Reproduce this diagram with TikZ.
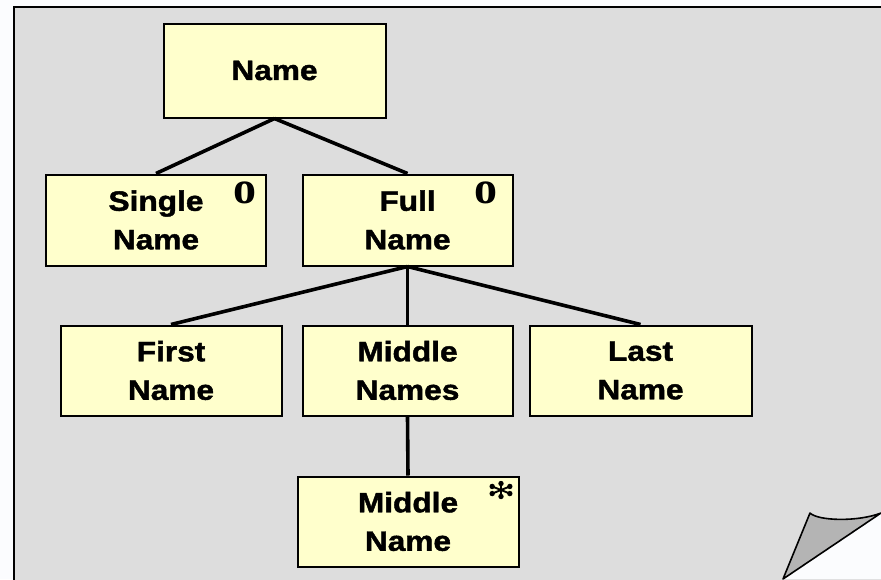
\documentclass[tikz,border=0pt]{standalone}
\usepackage{fontspec}
\usetikzlibrary{calc}
\setmainfont{Liberation Sans}
\newfontfamily\boxfont{Liberation Sans Bold}[FakeStretch=1.13, FakeBold=1.6]
\newfontfamily\markfont{Liberation Serif Bold}
\definecolor{paper}{HTML}{DDDDDD}
\definecolor{outside}{HTML}{FBFCFE}
\definecolor{boxfill}{HTML}{FFFFCC}
\definecolor{curl}{HTML}{B4B4B4}
\begin{document}
\begin{tikzpicture}[x=1pt,y=-1pt,
  entity/.style={draw=black, fill=boxfill, line width=2pt, rectangle,
    inner sep=0pt, align=center,
    font=\boxfont\fontsize{28}{38.5}\selectfont},
  link/.style={draw=black, line width=3.6pt},
  selmark/.style={inner sep=0pt, font=\markfont\fontsize{46}{46}\selectfont},
  arm/.style={line width=1.9pt, line cap=round}]
  \useasboundingbox (0,0) rectangle (881,579);
  \fill[outside] (0,0) rectangle (881,579);
  % sheet of paper
  \begin{scope}
    \clip (0,0) rectangle (881,579);
    \draw[fill=paper, line width=2pt] (14,7) rectangle (900,600);
  \end{scope}
  % turned-up corner
  \coordinate (cA) at (783,579);
  \coordinate (cB) at (810,513);
  \coordinate (cC) at (881,513);
  \fill[outside] (cA) -- (cC) -- (881,579) -- cycle;
  \draw[fill=curl, line width=1.6pt, line join=round]
    (cA) -- (cB) .. controls (818,521) and (858,522) .. (cC) -- cycle;

  % structure boxes
  \node[entity, minimum width=222pt, minimum height=94pt] (name) at (274.5,70.5) {Name};
  \node[entity, minimum width=220pt, minimum height=91pt] (single) at (156,220) {Single\\Name};
  \node[entity, minimum width=210pt, minimum height=91pt] (full) at (407.5,220) {Full\\Name};
  \node[entity, minimum width=221pt, minimum height=90pt] (first) at (171,370.5) {First\\Name};
  \node[entity, minimum width=210pt, minimum height=90pt] (middles) at (407.5,370.5) {Middle\\Names};
  \node[entity, minimum width=222pt, minimum height=90pt] (last) at (640.5,370.5) {Last\\Name};
  \node[entity, minimum width=221pt, minimum height=90pt] (middle) at (408,521.5) {Middle\\Name};

  % selection marks
  \node[selmark] (selA) at (245,193) {o};
  \node[selmark] (selB) at (486,193) {o};
  % iteration mark: six spokes with rounded ends
  \coordinate (iter) at (501,490);
  \foreach \ang/\len in {90/6.5, 270/6.5, 22/9.5, 158/9.5, -22/9.5, 202/9.5} {
    \draw[arm] (iter) -- ++(\ang:\len);
    \fill ($(iter)+(\ang:\len)$) circle (2.7pt);
  }

  % connectors
  \draw[link] (name.south) -- (single.north);
  \draw[link] (name.south) -- (full.north);
  \draw[link] (full.south) -- (first.north);
  \draw[link] (full.south) -- (middles.north);
  \draw[link] (full.south) -- (last.north);
  \draw[link] (middles.south) -- (middle.north);
\end{tikzpicture}
\end{document}
